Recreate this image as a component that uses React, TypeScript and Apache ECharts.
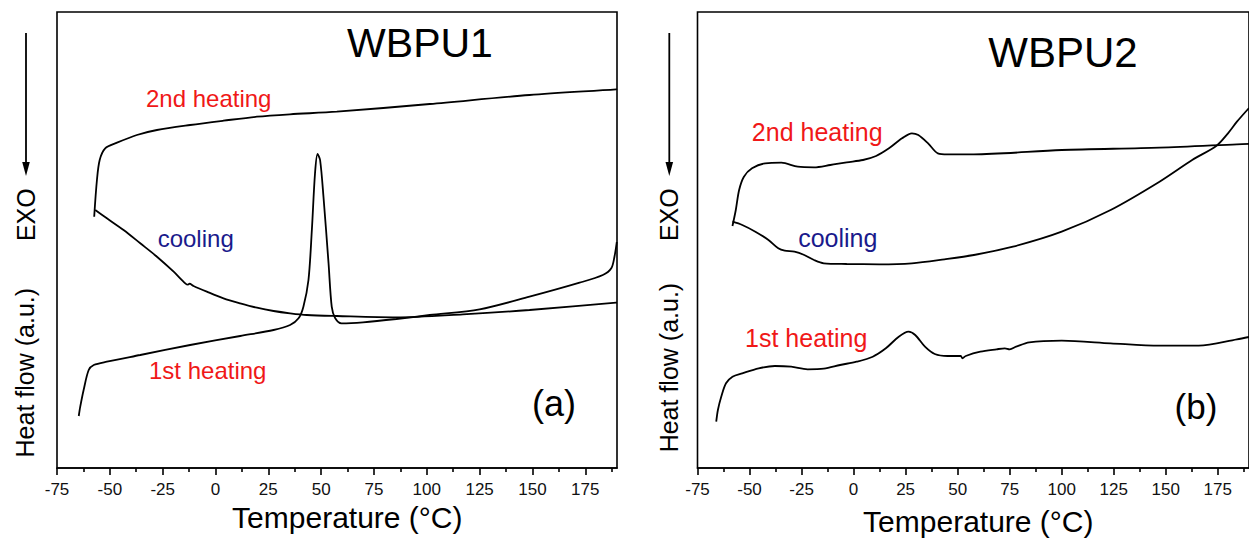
import React, { useEffect, useRef } from "react";
import * as echarts from "echarts";

// DSC traces: [temperature °C, heat flow (a.u.)]
const wbpu1SecondHeating: [number, number][] = [
  [-57.4, 251.3], [-56.1, 288], [-54.8, 308], [-52.2, 319.7], [-46.6, 325.3],
  [-37.2, 333], [-27.7, 338], [-12.0, 343], [3.8, 347.3], [19.6, 351.3],
  [35.2, 353.7], [57.4, 356.3], [101.4, 364], [148.6, 373], [189.6, 378.7], [190, 379],
];
const wbpu1Cooling: [number, number][] = [
  [-56.9, 258], [-51.4, 249.7], [-43.5, 238], [-35.6, 224.7], [-27.7, 211.3],
  [-19.8, 196.3], [-14.3, 184.7], [-13.0, 183.3], [-12.3, 184.3], [-10.4, 182],
  [-4.1, 176.3], [3.8, 169.7], [11.7, 164.7], [19.6, 160.3], [27.5, 157],
  [35.3, 154.7], [43.2, 153], [57.4, 152], [85.6, 150.7], [117.1, 153.7],
  [148.6, 158], [189.6, 165.3], [190, 165.4],
];
const wbpu1FirstHeating: [number, number][] = [
  [-64.7, 52], [-64.0, 61.3], [-62.4, 78], [-60.0, 98], [-57.6, 103],
  [-51.4, 106.3], [-35.6, 113], [-12.0, 123], [11.7, 132], [27.5, 138],
  [35.3, 143], [39.3, 149.7], [41.6, 161.3], [44.0, 188], [45.6, 238],
  [47.1, 294.7], [48.3, 314], [49.5, 308], [51.1, 271.3], [53.5, 204.7],
  [55.0, 161.3], [56.6, 150], [59.6, 144.7], [69.8, 145.7], [85.6, 149],
  [101.4, 153], [125.0, 158.7], [148.6, 171.3], [172.3, 185.3], [183.3, 193],
  [187.3, 199.7], [188.8, 211.3], [189.9, 226],
];

const wbpu2SecondHeating: [number, number][] = [
  [-58.2, 242], [-56.6, 258], [-55.0, 278], [-52.7, 291.3], [-48.8, 299.7],
  [-42.5, 304.7], [-34.7, 305.3], [-26.8, 301.3], [-19.0, 300.7], [-11.2, 303],
  [-3.3, 305.7], [4.5, 308], [10.8, 312], [17.0, 319.7], [23.3, 329.7],
  [28.0, 334.7], [31.1, 333], [35.8, 324.7], [40.5, 314.7], [45.2, 313.7],
  [57.8, 313.7], [100.0, 318], [147.0, 320.3], [184.2, 323.7], [190, 324.2],
];
const wbpu2Cooling: [number, number][] = [
  [-58.2, 246.3], [-53.5, 243], [-47.2, 236.3], [-40.9, 228], [-36.2, 219.7],
  [-33.1, 217.3], [-28.4, 216.3], [-23.7, 213], [-19.0, 208], [-14.3, 204.7],
  [-3.3, 204], [12.3, 203.7], [28.0, 204.7], [43.7, 208.7], [57.8, 213],
  [76.6, 221.3], [100.0, 236.3], [123.5, 258], [147.0, 286.3], [162.7, 308],
  [174.4, 322.3], [179.9, 334.7], [184.2, 346.3], [190, 360],
];
const wbpu2FirstHeating: [number, number][] = [
  [-66.0, 46.3], [-65.2, 58], [-63.6, 71.3], [-61.3, 84.7], [-58.2, 91.3],
  [-53.5, 94.7], [-45.6, 99.7], [-37.8, 102], [-30.0, 101.3], [-22.1, 98.7],
  [-14.3, 99.3], [-6.5, 103], [1.4, 106.3], [9.2, 111.3], [15.5, 119.7],
  [21.7, 131.3], [26.4, 136.3], [29.6, 133], [34.3, 121.3], [39.0, 114],
  [45.2, 112], [51.5, 112], [52.3, 109.7], [53.9, 112], [60.9, 116.3],
  [68.7, 118.7], [72.7, 119.7], [75.0, 118.7], [78.1, 121.3], [84.4, 125.7],
  [100.0, 127.3], [123.5, 124.7], [147.0, 122.3], [165.8, 122.3], [184.2, 128.7],
  [190, 131],
];

const majorTicks = [-75, -50, -25, 0, 25, 50, 75, 100, 125, 150, 175];
const minorTicks = [-62.5, -37.5, -12.5, 12.5, 37.5, 62.5, 87.5, 112.5, 137.5, 162.5, 187.5];

const FONT = "'Liberation Sans', Arial, sans-serif";
const RED = "#f01818";
const NAVY = "#1a1a8c";
const PLOT_H = 456;

function majorAxis(gridIndex: number) {
  return {
    gridIndex,
    type: "value",
    min: -75,
    max: 190,
    position: "bottom",
    axisLine: { show: true, onZero: false, lineStyle: { color: "#000", width: 1.6 } },
    axisTick: { show: true, length: 7, customValues: majorTicks, lineStyle: { color: "#000", width: 1.6 } },
    axisLabel: { customValues: majorTicks, fontSize: 17, color: "#111", margin: 13, fontFamily: FONT },
    splitLine: { show: false },
  };
}

// Short intermediate ticks, drawn by an axis shifted down onto the bottom edge
function minorAxis(gridIndex: number) {
  return {
    gridIndex,
    type: "value",
    min: -75,
    max: 190,
    position: "top",
    offset: -PLOT_H,
    axisLine: { show: false },
    axisTick: { show: true, inside: true, length: 4, customValues: minorTicks, lineStyle: { color: "#000", width: 1.6 } },
    axisLabel: { show: false },
    splitLine: { show: false },
  };
}

function yAxis(gridIndex: number) {
  return {
    gridIndex,
    type: "value",
    min: 0,
    max: PLOT_H,
    axisLine: { show: false },
    axisTick: { show: false },
    axisLabel: { show: false },
    splitLine: { show: false },
  };
}

function trace(data: [number, number][], xAxisIndex: number, yAxisIndex: number) {
  return {
    type: "line",
    data,
    xAxisIndex,
    yAxisIndex,
    showSymbol: false,
    smooth: 0.3,
    lineStyle: { color: "#000", width: 1.8 },
    silent: true,
  };
}

function text(str: string, x: number, y: number, size: number, fill = "#000", rotation = 0) {
  return {
    type: "text",
    x,
    y,
    rotation,
    silent: true,
    style: { text: str, fontSize: size, fontFamily: FONT, fill, align: "center", verticalAlign: "middle" },
  };
}

function exoArrow(x: number) {
  return [
    { type: "line", silent: true, shape: { x1: x, y1: 33, x2: x, y2: 166 }, style: { stroke: "#000", lineWidth: 1.8 } },
    {
      type: "polygon",
      silent: true,
      shape: { points: [[x - 3.8, 162], [x + 3.8, 162], [x, 176]] },
      style: { fill: "#000" },
    },
  ];
}

export default function App() {
  const ref = useRef<HTMLDivElement>(null);

  useEffect(() => {
    if (!ref.current) return;
    const chart = echarts.init(ref.current, null, { renderer: "svg" });
    chart.setOption({
      animation: false,
      backgroundColor: "#fff",
      grid: [
        { left: 57, top: 12, width: 560, height: PLOT_H, show: true, borderColor: "#000", borderWidth: 1.6 },
        { left: 697.5, top: 12, width: 563.5, height: PLOT_H, show: true, borderColor: "#000", borderWidth: 1.6 },
      ],
      xAxis: [majorAxis(0), minorAxis(0), majorAxis(1), minorAxis(1)],
      yAxis: [yAxis(0), yAxis(1)],
      series: [
        trace(wbpu1SecondHeating, 0, 0),
        trace(wbpu1Cooling, 0, 0),
        trace(wbpu1FirstHeating, 0, 0),
        trace(wbpu2SecondHeating, 2, 1),
        trace(wbpu2Cooling, 2, 1),
        trace(wbpu2FirstHeating, 2, 1),
      ],
      graphic: [
        // panel (a)
        text("WBPU1", 420, 43, 41),
        text("(a)", 554, 403.5, 36),
        text("2nd heating", 208.7, 98.3, 24, RED),
        text("cooling", 195.7, 238.3, 24, NAVY),
        text("1st heating", 207.7, 370, 24, RED),
        text("Temperature (°C)", 347.3, 517, 30),
        text("Heat flow (a.u.)", 25, 372.7, 25, "#000", Math.PI / 2),
        text("EXO", 26, 214.7, 25, "#000", Math.PI / 2),
        ...exoArrow(26),
        // panel (b)
        text("WBPU2", 1063, 52, 42),
        text("(b)", 1196, 406, 35),
        text("2nd heating", 817.2, 132.3, 25, RED),
        text("cooling", 837.8, 238.3, 25, NAVY),
        text("1st heating", 806.2, 338.3, 25, RED),
        text("Temperature (°C)", 978.3, 521, 30),
        text("Heat flow (a.u.)", 669, 367.6, 25, "#000", Math.PI / 2),
        text("EXO", 669, 214.7, 25, "#000", Math.PI / 2),
        ...exoArrow(669.3),
      ],
    });
    return () => chart.dispose();
  }, []);

  return (
    <div
      ref={ref}
      style={{ position: "absolute", left: 0, top: 0, width: 1249, height: 545, background: "#fff" }}
    />
  );
}
